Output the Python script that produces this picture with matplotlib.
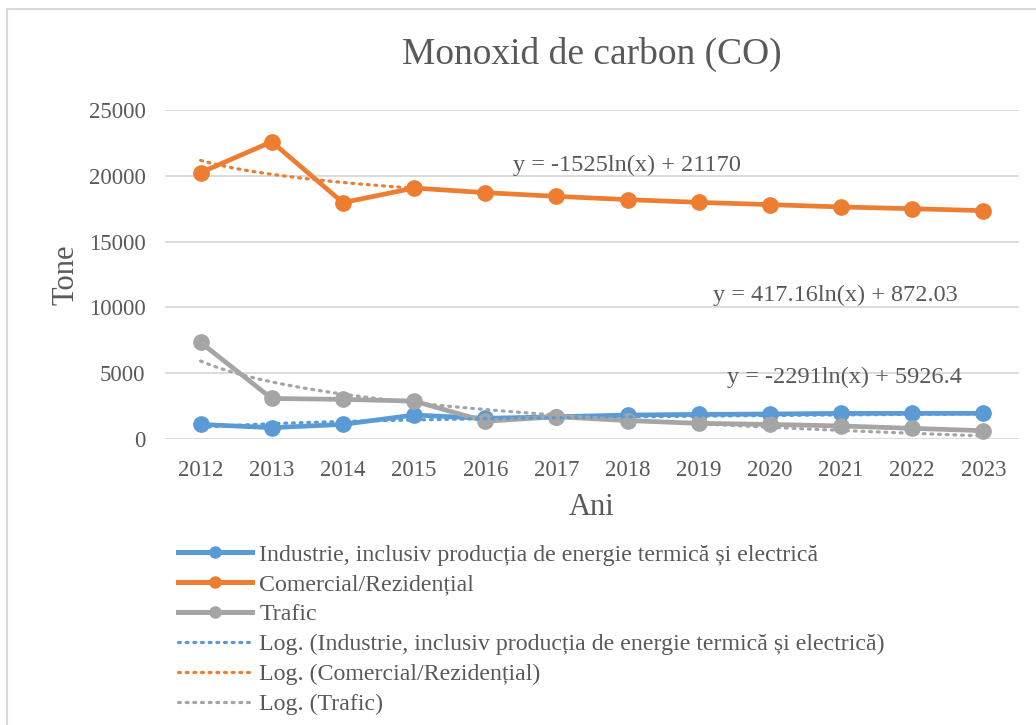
import numpy as np
import matplotlib
matplotlib.use("Agg")
import matplotlib.pyplot as plt
from matplotlib.lines import Line2D

plt.rcParams['font.family'] = ['Liberation Serif', 'DejaVu Serif']

years = ['2012', '2013', '2014', '2015', '2016', '2017',
         '2018', '2019', '2020', '2021', '2022', '2023']
industrie = [1110, 860, 1110, 1820, 1570, 1690, 1820, 1870, 1900, 1950, 1950, 1950]
comercial = [20240, 22590, 17960, 19070, 18720, 18440, 18190, 17980, 17810, 17630, 17500, 17350]
trafic = [7340, 3080, 3010, 2880, 1350, 1690, 1400, 1190, 1110, 990, 810, 630]

# log trend coefficients (a, b) for y = a*ln(x) + b
trend_ind = (417.16, 872.03)
trend_com = (-1525, 21170)
trend_tra = (-2291, 5926.4)

names = ['Industrie, inclusiv producția de energie termică și electrică',
         'Comercial/Rezidențial', 'Trafic']
colors = ['#5B9BD5', '#ED7D31', '#A5A5A5']
txt = '#595959'

W, H = 1036, 725
fig = plt.figure(figsize=(W / 100, H / 100), dpi=100)
ax = fig.add_axes([165 / W, 1 - 439 / H, (1019 - 165) / W, (439 - 110) / H])

x = np.arange(len(years))
series = [industrie, comercial, trafic]
for vals, c in zip(series, colors):
    ax.plot(x, vals, color=c, lw=3.4, marker='o', ms=11, zorder=3,
            solid_capstyle='round')

xs = np.linspace(1, len(years), 200)
for (a, b), c in zip([trend_ind, trend_com, trend_tra], colors):
    ax.plot(xs - 1, a * np.log(xs) + b, color=c, lw=2.3, ls=(0, (0.6, 1.8)),
            dash_capstyle='round', zorder=4)

ax.set_xlim(-0.5, len(years) - 0.5)
ax.set_ylim(0, 25000)
ax.set_yticks(np.arange(0, 25001, 5000))
ax.set_xticks(x)
ax.set_xticklabels(years)
ax.tick_params(length=0, labelsize=16.5, colors=txt)
ax.tick_params(axis='x', pad=15)
ax.tick_params(axis='y', pad=14)
ax.grid(axis='y', color='#D9D9D9', lw=1.3)
ax.set_axisbelow(True)
for s in ax.spines.values():
    s.set_visible(False)

ax.set_title('Monoxid de carbon (CO)', fontsize=27, color=txt, pad=33)
ax.set_xlabel('Ani', fontsize=22, color=txt, labelpad=9)
ax.set_ylabel('Tone', fontsize=22, color=txt, labelpad=6)

# trend equations
ax.text(4.39, 20800, 'y = -1525ln(x) + 21170', fontsize=17.5, color=txt, va='center')
ax.text(7.2, 10900, 'y = 417.16ln(x) + 872.03', fontsize=17.5, color=txt, va='center')
ax.text(7.4, 4700, 'y = -2291ln(x) + 5926.4', fontsize=17.5, color=txt, va='center')

handles = [Line2D([], [], color=c, lw=3.6, marker='o', ms=8) for c in colors]
handles += [Line2D([], [], color=c, lw=2.3, ls=(0, (0.6, 1.8)), dash_capstyle='round')
            for c in colors]
labels = names + ['Log. (%s)' % n for n in names]
leg = fig.legend(handles, labels, loc='upper left', bbox_to_anchor=(178 / W, 1 - 544 / H),
                 frameon=False, fontsize=17.2, handlelength=3.1, handletextpad=0.3,
                 labelspacing=0.34, borderaxespad=0, borderpad=0)
for t in leg.get_texts():
    t.set_color(txt)

# chart frame (top and left edges visible)
fig.add_artist(Line2D([7 / W, 7 / W], [0, 1 - 9 / H], transform=fig.transFigure,
                      color='#D9D9D9', lw=1.5))
fig.add_artist(Line2D([7 / W, 1], [1 - 9 / H, 1 - 9 / H], transform=fig.transFigure,
                      color='#D9D9D9', lw=1.5))

fig.savefig('out.png', dpi=100)
